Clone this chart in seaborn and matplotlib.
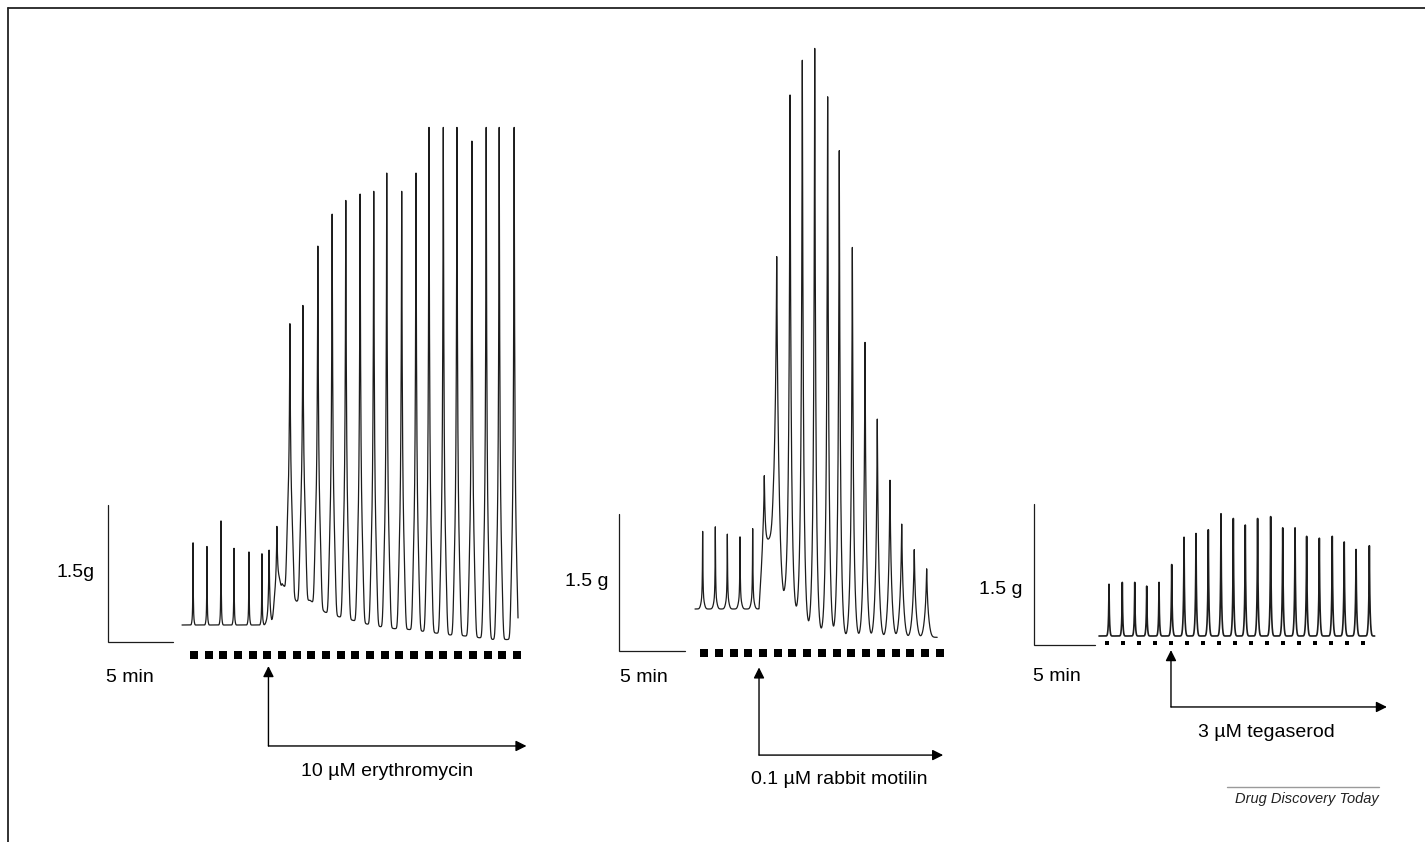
import numpy as np
import pandas as pd
import seaborn as sns
import matplotlib.pyplot as plt
from matplotlib.lines import Line2D

W, H = 1425, 842

# --- panel 1: 10 uM erythromycin (time in min, force in g) ---
ery_times = [0.85, 1.92, 3.0, 4.0, 5.15, 6.15, 6.7, 7.3,
             8.3, 9.3, 10.45, 11.55, 12.6, 13.7, 14.75, 15.75, 16.9,
             18.0, 19.0, 20.1, 21.15, 22.3, 23.4, 24.4, 25.55]
ery_peaks = [0.90, 0.86, 1.14, 0.84, 0.80, 0.78, 0.82, 1.08,
             3.3, 3.5, 4.15, 4.5, 4.65, 4.72, 4.75, 4.95, 4.75,
             4.95, 5.45, 5.45, 5.45, 5.3, 5.45, 5.45, 5.45]
ery_body = [0.04, 0.04, 0.04, 0.04, 0.04, 0.04, 0.04, 0.2,
            0.9, 1.0, 0.9, 0.9, 0.9, 0.9, 0.9, 0.9, 0.9,
            0.9, 0.9, 0.9, 0.9, 0.9, 0.9, 0.9, 0.9]
ery_base_t = [0, 6.9, 7.1, 7.7, 8.8, 9.85, 11.0, 12.05, 13.15, 14.2, 15.25,
              16.3, 17.45, 18.5, 19.55, 20.6, 21.7, 22.85, 23.9, 25.0, 25.9]
ery_base_g = [0, 0, 0.12, 0.45, 0.26, 0.27, 0.14, 0.09, 0.05, 0.01, -0.02,
              -0.04, -0.05, -0.07, -0.09, -0.11, -0.12, -0.14, -0.16, -0.16, -0.16]
ery_dots = [0.92, 2.05, 3.18, 4.31, 5.44, 6.57, 7.69, 8.82, 9.95, 11.08, 12.21,
            13.34, 14.47, 15.6, 16.73, 17.86, 18.98, 20.11, 21.24, 22.37, 23.5,
            24.63, 25.76]
ery_drug_t = 6.65
ery_label = '10 µM erythromycin'
ery_scale = '1.5g'

# --- panel 2: 0.1 uM rabbit motilin ---
mot_times = [0.58, 1.54, 2.45, 3.41, 4.37, 5.25, 6.19, 7.2, 8.13, 9.07, 10.05,
             10.93, 11.92, 12.88, 13.81, 14.77, 15.66, 16.61, 17.55]
mot_peaks = [0.85, 0.90, 0.82, 0.79, 0.88, 1.46, 3.86, 5.63, 6.01, 6.14, 5.61,
             5.02, 3.96, 2.92, 2.08, 1.41, 0.93, 0.65, 0.44]
mot_body = [0.12, 0.12, 0.12, 0.12, 0.12, 0.0, 1.4, 1.0, 1.0, 1.0, 1.0,
            0.9, 0.8, 0.7, 0.6, 0.5, 0.4, 0.3, 0.25]
mot_base_t = [0, 4.85, 5.15, 5.9, 6.7, 7.65, 8.6, 9.55, 10.5, 11.4, 18.4]
mot_base_g = [0, 0, 0.7, 0.8, 0.16, -0.04, -0.2, -0.26, -0.29, -0.31, -0.31]
mot_dots = [0.68, 1.8, 2.92, 4.03, 5.15, 6.27, 7.38, 8.5, 9.62, 10.73, 11.85,
            12.97, 14.08, 15.2, 16.32, 17.44, 18.55]
mot_drug_t = 4.85
mot_label = '0.1 µM rabbit motilin'
mot_scale = '1.5 g'

# --- panel 3: 3 uM tegaserod ---
teg_times = [0.82, 1.91, 2.93, 3.91, 4.92, 5.96, 6.97, 7.95, 8.96, 10.0, 11.01,
             11.99, 13.0, 14.07, 15.06, 16.07, 17.02, 18.06, 19.12, 20.1, 21.07, 22.16]
teg_peaks = [0.55, 0.57, 0.57, 0.53, 0.57, 0.76, 1.05, 1.09, 1.13, 1.30, 1.25,
             1.18, 1.25, 1.27, 1.15, 1.15, 1.06, 1.04, 1.06, 1.00, 0.92, 0.96]
teg_body = [0.09, 0.09, 0.09, 0.09, 0.09, 0.12, 0.18, 0.2, 0.2, 0.2, 0.2,
            0.2, 0.2, 0.2, 0.2, 0.2, 0.2, 0.2, 0.2, 0.2, 0.2, 0.2]
teg_base_t = [0, 22.6]
teg_base_g = [0, 0]
teg_dots = [0.66, 1.97, 3.28, 4.59, 5.9, 7.21, 8.52, 9.84, 11.15, 12.46, 13.77,
            15.08, 16.39, 17.7, 19.01, 20.32, 21.64]
teg_drug_t = 5.9
teg_label = '3 µM tegaserod'
teg_scale = '1.5 g'

sns.set_theme(style='white')
plt.rcParams['font.family'] = ['Liberation Sans', 'DejaVu Sans']

fig = plt.figure(figsize=(W / 100, H / 100), dpi=100)
fig.patch.set_facecolor('white')

INK = '#1c1c1c'
FS = 14


def panel_axes(x0, y0, ppm, ppg):
    # full-figure axes, data in minutes / grams, origin at pixel (x0, y0)
    ax = fig.add_axes([0, 0, 1, 1])
    ax.set_xlim(-x0 / ppm, (W - x0) / ppm)
    ax.set_ylim((y0 - H) / ppg, y0 / ppg)
    ax.patch.set_alpha(0)
    return ax


def contraction_trace(times, peaks, body, base_t, base_g, t_end, drug_t,
                      tau_pre, tau_post, w_pre, w_post, p):
    # sample finely and always hit the spike tips
    t = np.union1d(np.arange(0, t_end, 0.004), times)
    g = np.interp(t, base_t, base_g)
    for t0, a, s in zip(times, peaks, body):
        tau = tau_pre if t0 < drug_t else tau_post
        w = w_pre if t0 < drug_t else w_post
        dt = t - t0
        a_rest = a - np.interp(t0, base_t, base_g) - s
        g = g + s * np.exp(-np.abs(dt / w) ** p) + a_rest * np.exp(-np.abs(dt) / tau)
    return pd.DataFrame({'t': t, 'g': g})


def draw_panel(ax, df, lw, dots, dot_g, dot_ms, corner, scale_txt, scale_xy, min_xy,
               drug_t, tip_g, elbow_g, arrow_end, label, label_xy):
    sns.lineplot(data=df, x='t', y='g', ax=ax, color=INK, lw=lw,
                 estimator=None, sort=False)
    ax.plot(dots, [dot_g] * len(dots), ls='none', marker='s', ms=dot_ms,
            color='black', mew=0)
    cx, cy = corner
    ax.plot([cx, cx, cx + 5], [cy + 1.5, cy, cy], color=INK, lw=0.9,
            solid_joinstyle='miter')
    ax.text(scale_xy[0], scale_xy[1], scale_txt, ha='right', va='center',
            fontsize=FS, color='black')
    ax.text(min_xy[0], min_xy[1], '5 min', ha='left', va='center',
            fontsize=FS, color='black')
    arrow = dict(arrowstyle='-|>', color='black', lw=1.0, mutation_scale=16,
                 shrinkA=0, shrinkB=0)
    ax.annotate('', xy=(drug_t, tip_g), xytext=(drug_t, elbow_g), arrowprops=arrow)
    ax.annotate('', xy=(arrow_end, elbow_g), xytext=(drug_t, elbow_g), arrowprops=arrow)
    ax.text(label_xy[0], label_xy[1], label, ha='center', va='center',
            fontsize=FS, color='black')
    ax.set_axis_off()


# panel 1
ax1 = panel_axes(182, 625, 13.0, 91.3)
df1 = contraction_trace(ery_times, ery_peaks, ery_body, ery_base_t, ery_base_g,
                        25.85, ery_drug_t, 0.022, 0.06, 0.12, 0.27, 4)
draw_panel(ax1, df1, 0.9, ery_dots, -0.33, 5.2, (-5.69, -0.186), ery_scale,
           (-6.69, 0.57), (-5.85, -0.57), ery_drug_t, -0.45, -1.325, 26.5,
           ery_label, (15.77, -1.61))

# panel 2
ax2 = panel_axes(695, 609, 13.2, 91.3)
df2 = contraction_trace(mot_times, mot_peaks, mot_body, mot_base_t, mot_base_g,
                        18.35, mot_drug_t, 0.025, 0.07, 0.16, 0.25, 2)
draw_panel(ax2, df2, 0.9, mot_dots, -0.48, 5.2, (-5.76, -0.46), mot_scale,
           (-6.59, 0.30), (-5.68, -0.745), mot_drug_t, -0.64, -1.6, 18.8,
           mot_label, (10.9, -1.87))

# panel 3
ax3 = panel_axes(1099, 636, 12.2, 94.0)
df3 = contraction_trace(teg_times, teg_peaks, teg_body, teg_base_t, teg_base_g,
                        22.6, teg_drug_t, 0.03, 0.035, 0.1, 0.12, 2)
draw_panel(ax3, df3, 1.2, teg_dots, -0.074, 3.4, (-5.33, -0.096), teg_scale,
           (-6.31, 0.5), (-5.41, -0.436), teg_drug_t, -0.15, -0.755, 23.6,
           teg_label, (13.7, -1.03))

# frame and journal credit
fig.add_artist(Line2D([8 / W, 1], [1 - 8 / H, 1 - 8 / H], color='#222222', lw=1.3))
fig.add_artist(Line2D([8 / W, 8 / W], [0, 1 - 8 / H], color='#222222', lw=1.3))
fig.add_artist(Line2D([1227 / W, 1379 / W], [1 - 786.5 / H, 1 - 786.5 / H],
                      color='#9a9a9a', lw=1.0))
fig.text(1379 / W, 1 - 799 / H, 'Drug Discovery Today', ha='right', va='center',
         fontsize=10.5, style='italic', color='#222222')

fig.savefig('out.png', dpi=100, facecolor='white')
